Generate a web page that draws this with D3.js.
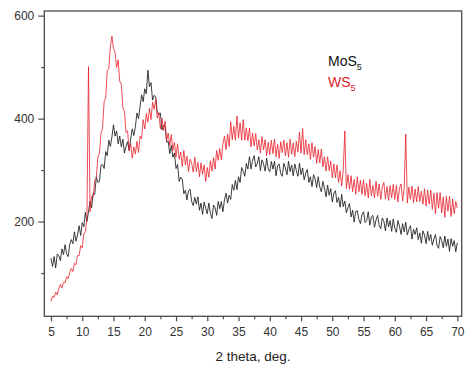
<!DOCTYPE html>
<html>
<head>
<meta charset="utf-8">
<script src="https://cdn.jsdelivr.net/npm/d3@7"></script>
<style>
  html, body { margin: 0; padding: 0; background: #ffffff; }
  svg { display: block; }
  text { font-family: "Liberation Sans", Arial, sans-serif; }
</style>
</head>
<body>
<svg id="chart" width="467" height="365"></svg>
<script>
// X-ray diffraction patterns, intensity sampled every 0.25 deg of 2 theta from 5 to 70
const twoThetaStart = 5;
const twoThetaStep = 0.25;

const mos5 = [
  129,113,132,110,137,134,124,147,136,155,137,132,156,165,157,180,162,174,192,173,
  198,190,218,200,219,240,227,255,253,286,276,278,309,311,303,336,328,358,346,365,
  388,366,376,351,366,345,360,333,346,355,338,361,380,367,384,411,400,424,446,433,
  458,448,494,462,470,436,445,443,412,407,411,378,387,386,354,356,332,348,325,333,
  303,311,278,286,282,254,261,242,260,263,239,231,247,234,248,222,236,214,238,226,
  215,236,216,206,232,227,212,239,225,239,219,242,255,236,251,243,272,261,280,262,
  287,276,305,298,288,313,302,326,302,319,328,306,313,326,299,320,312,298,323,302,
  297,317,302,317,289,308,312,293,288,313,304,291,317,297,310,289,312,299,288,313,
  291,304,281,294,301,276,287,268,291,283,266,287,267,258,278,265,248,271,251,264,
  238,255,260,237,247,228,253,229,240,217,227,235,209,222,199,220,221,204,196,214,
  219,198,202,219,193,209,212,189,203,212,192,186,207,201,182,207,190,202,181,205,
  187,179,202,191,175,196,180,199,174,185,192,166,185,175,188,165,178,158,182,174,
  157,181,163,175,154,166,175,154,148,171,163,149,172,152,166,142,167,152,163,141,
  159
];

const ws5 = [
  45,55,53,63,58,70,78,71,82,81,93,89,101,109,103,119,116,134,134,153,
  149,176,180,207,501,219,249,248,280,284,326,332,372,381,433,440,494,497,540,560,
  536,528,499,514,472,467,420,414,373,376,338,352,323,345,331,356,334,366,361,398,
  380,410,393,420,398,432,418,437,401,412,380,401,377,395,357,372,348,369,338,354,
  325,351,321,335,307,338,310,327,297,321,314,296,325,297,315,287,314,292,310,278,
  305,286,318,298,324,302,338,319,342,320,350,366,340,370,346,394,359,385,358,405,
  362,392,358,398,358,382,357,382,345,372,347,371,339,359,333,365,339,359,328,354,
  330,358,332,360,326,350,323,355,334,358,328,353,325,360,331,353,326,356,335,374,
  333,381,330,359,330,351,321,353,325,346,313,340,314,341,306,326,298,326,299,317,
  285,312,285,310,276,299,269,300,376,264,291,263,289,258,282,253,287,258,280,253,
  281,250,274,246,282,250,270,246,278,249,273,243,267,276,244,268,241,270,246,272,
  243,270,238,265,273,240,266,370,236,267,243,269,237,263,238,268,239,259,234,264,
  230,261,234,261,224,255,215,256,226,256,217,248,208,249,220,249,210,244,215,239,
  226
];

const seriesNames = ["MoS", "WS"];
const seriesSubscripts = ["5", "5"];
const seriesColors = ["#1c1c1c", "#e8202a"];

const xMajorTicks = [5, 10, 15, 20, 25, 30, 35, 40, 45, 50, 55, 60, 65, 70];
const xMinorTicks = [7.5, 12.5, 17.5, 22.5, 27.5, 32.5, 37.5, 42.5, 47.5, 52.5, 57.5, 62.5, 67.5];
const yMajorTicks = [200, 400, 600];
const yMinorTicks = [100, 300, 500];
const xTitle = "2 theta, deg.";

const svg = d3.select("#chart");
const plot = { left: 44.3, right: 461.7, top: 11, bottom: 316.3 };

const x = d3.scaleLinear().domain([3.93, 70.7]).range([plot.left, plot.right]);
const y = d3.scaleLinear().domain([16, 609]).range([plot.bottom, plot.top]);

const toPoints = arr => arr.map((v, i) => [twoThetaStart + i * twoThetaStep, v]);

svg.append("defs").append("clipPath").attr("id", "plotClip")
  .append("rect")
  .attr("x", plot.left).attr("y", plot.top)
  .attr("width", plot.right - plot.left).attr("height", plot.bottom - plot.top);

const line = d3.line().x(d => x(d[0])).y(d => y(d[1]));

const lines = svg.append("g").attr("clip-path", "url(#plotClip)");
[mos5, ws5].forEach((s, k) => {
  lines.append("path")
    .datum(toPoints(s))
    .attr("d", line)
    .attr("fill", "none")
    .attr("stroke", seriesColors[k])
    .attr("stroke-width", 1)
    .attr("stroke-opacity", k === 0 ? 0.85 : 0.8)
    .attr("stroke-linejoin", "round");
});

// frame
svg.append("rect")
  .attr("x", plot.left).attr("y", plot.top)
  .attr("width", plot.right - plot.left).attr("height", plot.bottom - plot.top)
  .attr("fill", "none").attr("stroke", "#4a4a4a").attr("stroke-width", 1.3);

function styleAxis(g) {
  g.select(".domain").remove();
  g.selectAll(".tick line").attr("stroke", "#4a4a4a").attr("stroke-width", 1.2);
  g.selectAll(".tick text").attr("fill", "#333").style("font-size", "12px")
    .style("font-family", "'Liberation Sans', Arial, sans-serif");
}

// x axis
svg.append("g").attr("transform", `translate(0,${plot.bottom})`)
  .call(d3.axisBottom(x).tickValues(xMajorTicks).tickSize(5).tickPadding(6).tickFormat(d3.format("d")))
  .call(styleAxis);
svg.append("g").attr("transform", `translate(0,${plot.bottom})`)
  .call(d3.axisBottom(x).tickValues(xMinorTicks).tickSize(3).tickFormat(""))
  .call(styleAxis);

// y axis
svg.append("g").attr("transform", `translate(${plot.left},0)`)
  .call(d3.axisLeft(y).tickValues(yMajorTicks).tickSize(6).tickPadding(4).tickFormat(d3.format("d")))
  .call(styleAxis);
svg.append("g").attr("transform", `translate(${plot.left},0)`)
  .call(d3.axisLeft(y).tickValues(yMinorTicks).tickSize(3).tickFormat(""))
  .call(styleAxis);

// axis title
svg.append("text")
  .attr("x", 253).attr("y", 361)
  .attr("text-anchor", "middle")
  .attr("fill", "#222")
  .style("font-size", "13.5px")
  .text(xTitle);

// legend
const legend = svg.append("g");
seriesNames.forEach((name, k) => {
  const t = legend.append("text")
    .attr("x", 328).attr("y", 66 + k * 21)
    .attr("fill", k === 0 ? "#111" : "#e0202c")
    .style("font-size", "14px");
  t.append("tspan").text(name);
  t.append("tspan").attr("dy", 4).style("font-size", "9px").text(seriesSubscripts[k]);
});
</script>
</body>
</html>
